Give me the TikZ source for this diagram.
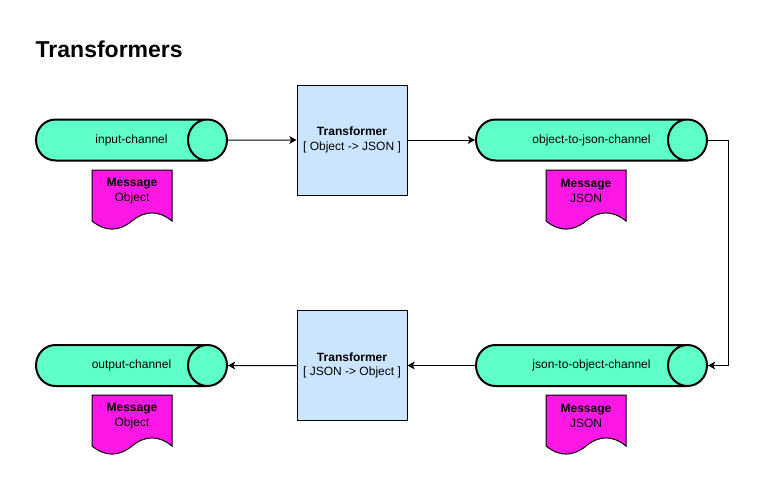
\documentclass[tikz,border=0pt]{standalone}
\usepackage{fontspec}
\setmainfont{Liberation Sans}
\usetikzlibrary{shapes.geometric,arrows.meta}
\definecolor{chanfill}{HTML}{5FFFCA}
\definecolor{msgfill}{HTML}{FF17E6}
\definecolor{boxfill}{HTML}{CCE5FF}
\begin{document}
\begin{tikzpicture}[x=0.75pt,y=-0.75pt,
  every node/.style={font=\fontsize{9}{10.8}\selectfont},
  channel/.style={cylinder,shape aspect=3.4,text height=6.6pt,text depth=2pt,anchor=shape center,draw,line width=1.5pt,fill=chanfill,minimum width=30.75pt,minimum height=#1,inner sep=0pt},
  channel/.default=143.25pt,
  transformer/.style={draw,line width=0.75pt,fill=boxfill,minimum width=82.5pt,minimum height=82.5pt,align=center},
  msgdoc/.style={draw,line width=0.75pt,fill=msgfill},
  flow/.style={-{Stealth[length=5.5pt,width=6pt,inset=1.5pt]},line width=0.75pt}]
\useasboundingbox (0,0) rectangle (765,486);
\node[anchor=base west,font=\fontsize{17.25}{20}\selectfont\bfseries] (title) at (31,57) {Transformers};
\node[channel] (in) at (131.5,140) {};
\node (inl) at (in.shape center) {input-channel};
\node[transformer] (t1) at (352,140) {\textbf{Transformer}\\{[} Object -> JSON ]};
\node[channel=173.25pt] (o2j) at (591.5,140) {};
\node (o2jl) at (o2j.shape center) {object-to-json-channel};
\node[channel=173.25pt] (j2o) at (591.5,365.5) {};
\node (j2ol) at (j2o.shape center) {json-to-object-channel};
\node[transformer] (t2) at (352,365.5) {\textbf{Transformer}\\{[} JSON -> Object ]};
\node[channel] (out) at (131.5,365.5) {};
\node (outl) at (out.shape center) {output-channel};
\foreach \i/\x/\y/\t in {1/92/170/Object,2/546/170/JSON,3/92/395/Object,4/546/395/JSON}{
  \draw[msgdoc] (\x,\y) -- ++(80,0) -- ++(0,51)
    .. controls +(-13.33,-10.8) and +(13.33,-10.8) .. ++(-40,0)
    .. controls +(-13.33,10.8) and +(13.33,10.8) .. ++(-40,0) -- cycle;
  \node[align=center] (msg\i) at (\x+40,\y+21) {\textbf{Message}\\\t};
}
\draw[flow] (in.east) -- (t1.west);
\draw[flow] (t1.east) -- (o2j.west);
\draw[flow] (o2j.east) -- ++(20,0) |- (j2o.east);
\draw[flow] (j2o.west) -- (t2.east);
\draw[flow] (t2.west) -- (out.east);
\end{tikzpicture}
\end{document}
